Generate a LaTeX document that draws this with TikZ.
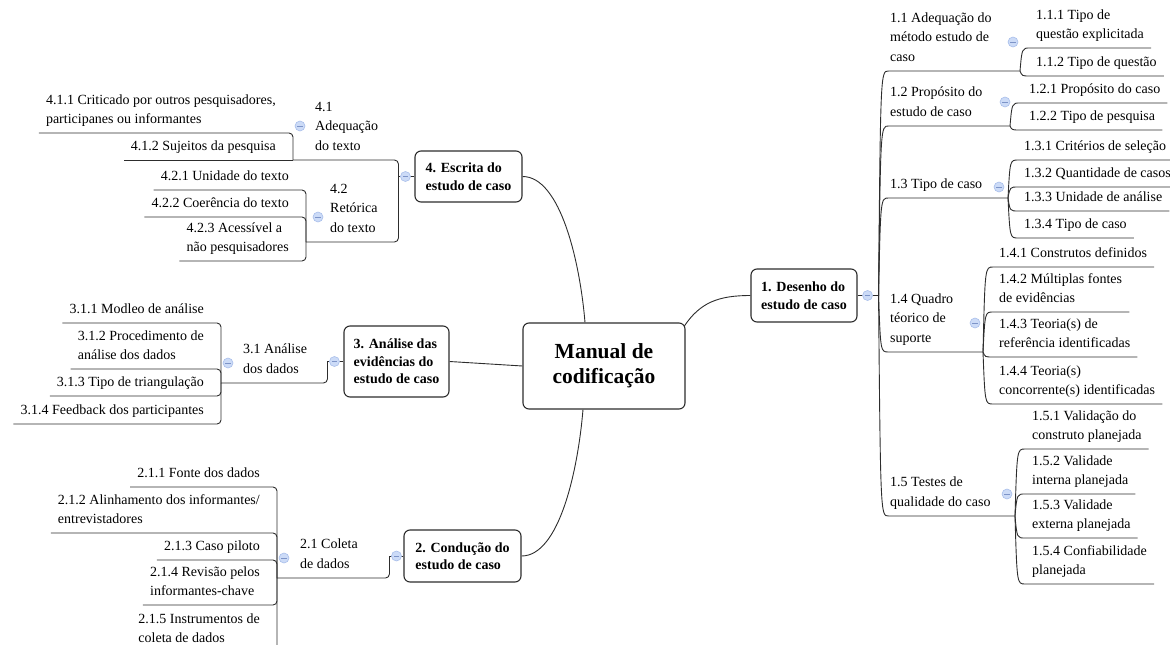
\documentclass[tikz,border=0pt]{standalone}
\usepackage{fontspec}
\setmainfont{Liberation Serif}
\usetikzlibrary{calc}
\definecolor{lnc}{RGB}{45,45,45}
\definecolor{mkfill}{RGB}{204,219,247}
\definecolor{mkdraw}{RGB}{168,190,234}
\definecolor{mkminus}{RGB}{125,148,200}
\pgfdeclarelayer{bg}
\pgfsetlayers{bg,main}
\begin{document}
\begin{tikzpicture}[x=1pt,y=-1pt,
  conn/.style={draw=lnc, line width=0.9pt},
  box/.style={draw=lnc, line width=1.1pt, rounded corners=6pt, fill=white, align=left, inner sep=0pt, font=\fontsize{14}{17.5}\selectfont\bfseries},
  topic/.style={inner xsep=7pt, inner ysep=5.5pt, text depth=4pt, align=left, font=\fontsize{14}{18.5}\selectfont},
  topicb/.style={topic, font=\fontsize{14}{19.5}\selectfont},
  mk/.style={circle, draw=mkdraw, fill=mkfill, line width=0.6pt, minimum size=10pt, inner sep=0pt,
    path picture={\draw[mkminus, line width=0.8pt] ([xshift=-2.6pt]path picture bounding box.center) -- ([xshift=2.6pt]path picture bounding box.center);}},
  rb/.style={to path={(\tikztostart) .. controls ($(\tikztostart |- \tikztotarget)+(2,0)$) .. ($(\tikztostart |- \tikztotarget)+(10,0)$) -- (\tikztotarget)}},
]
\useasboundingbox (0,0) rectangle (1170,645);

% ---------- central and main topics
\node[box, minimum width=162pt, minimum height=86pt, align=center, font=\fontsize{21.5}{25}\selectfont\bfseries] (c) at (604,366) {Manual de\\codificação};
\node[box, minimum width=106pt, minimum height=53pt] (d1) at (804,295.5) {1. Desenho do\\estudo de caso};
\node[box, minimum width=107pt, minimum height=51pt] (d4) at (468.5,176.5) {4. Escrita do\\estudo de caso};
\node[box, minimum width=105pt, minimum height=71pt] (d3) at (396.5,361.5) {3. Análise das\\evidências do\\estudo de caso};
\node[box, minimum width=117pt, minimum height=52pt] (d2) at (462.5,556) {2. Condução do\\estudo de caso};

\begin{pgfonlayer}{bg}
\draw[conn] ([xshift=-1.5pt,yshift=-4pt]c.north east) .. controls +(16,-24) and +(-32,0) .. (d1.west);
\draw[conn] (d4.east) .. controls +(38,0) and +(-5,-60) .. ([xshift=-19pt]c.north);
\draw[conn] (d3.east) -- (c.west);
\draw[conn] (d2.east) .. controls +(38,0) and +(-5,60) .. ([xshift=-21pt]c.south);
\end{pgfonlayer}

% ---------- branch 1 (right)
\coordinate (j1) at ([xshift=21pt]d1.east);
\draw[conn] (d1.east) -- (j1);
\node[mk] (m1) at ([xshift=10pt]d1.east) {};

\node[topicb, anchor=south west] (t11) at (883,71) {1.1 Adequação do\\método estudo de\\caso};
\node[topicb, anchor=south west] (t12) at (883,126) {1.2 Propósito do\\estudo de caso};
\node[topicb, anchor=south west] (t13) at (883,198) {1.3 Tipo de caso};
\node[topicb, anchor=south west] (t14) at (883,352) {1.4 Quadro\\téorico de\\suporte};
\node[topicb, anchor=south west] (t15) at (883,516) {1.5 Testes de\\qualidade do caso};
\coordinate (j11) at ([xshift=137pt]t11.south west);
\coordinate (j12) at ([xshift=127pt]t12.south west);
\coordinate (j13) at ([xshift=125pt]t13.south west);
\coordinate (j14) at ([xshift=100pt]t14.south west);
\coordinate (j15) at ([xshift=132pt]t15.south west);
\foreach \k in {11,12,13,14,15} \draw[conn] (j1) to[rb] (j\k);
\node[mk] (m11) at (1013,42) {};
\node[mk] (m12) at (1005,102) {};
\node[mk] (m13) at (999,187) {};
\node[mk] (m14) at (975,323) {};
\node[mk] (m15) at (1007,494) {};

\node[topic, anchor=south west] (t111) at (1029,48) {1.1.1 Tipo de\\questão explicitada};
\node[topic, anchor=south west] (t112) at (1029,76) {1.1.2 Tipo de questão};
\foreach \k in {111,112} \draw[conn] (j11) to[rb] (t\k.south east);

\node[topic, anchor=south west] (t121) at (1022,103) {1.2.1 Propósito do caso};
\node[topic, anchor=south west] (t122) at (1022,130) {1.2.2 Tipo de pesquisa};
\foreach \k in {121,122} \draw[conn] (j12) to[rb] (t\k.south east);

\node[topic, anchor=south west] (t131) at (1017,160) {1.3.1 Critérios de seleção};
\node[topic, anchor=south west] (t132) at (1017,187) {1.3.2 Quantidade de casos};
\node[topic, anchor=south west] (t133) at (1017,211) {1.3.3 Unidade de análise};
\node[topic, anchor=south west] (t134) at (1017,238) {1.3.4 Tipo de caso};
\foreach \k in {131,132,133,134} \draw[conn] (j13) to[rb] (t\k.south east);

\node[topic, anchor=south west] (t141) at (992,267) {1.4.1 Construtos definidos};
\node[topic, anchor=south west] (t142) at (992,312) {1.4.2 Múltiplas fontes\\de evidências};
\node[topic, anchor=south west] (t143) at (992,357) {1.4.3 Teoria(s) de\\referência identificadas};
\node[topic, anchor=south west] (t144) at (992,404) {1.4.4 Teoria(s)\\concorrente(s) identificadas};
\foreach \k in {141,142,143,144} \draw[conn] (j14) to[rb] (t\k.south east);

\node[topic, anchor=south west] (t151) at (1025,449) {1.5.1 Validação do\\construto planejada};
\node[topic, anchor=south west] (t152) at (1025,494) {1.5.2 Validade\\interna planejada};
\node[topic, anchor=south west] (t153) at (1025,538) {1.5.3 Validade\\externa planejada};
\node[topic, anchor=south west] (t154) at (1025,584) {1.5.4 Confiabilidade\\planejada};
\foreach \k in {151,152,153,154} \draw[conn] (j15) to[rb] (t\k.south east);

% ---------- branch 4 (left)
\coordinate (j4) at ([xshift=-16pt]d4.west);
\draw[conn] (d4.west) -- (j4);
\node[mk] (m4) at ([xshift=-9pt]d4.west) {};
\node[topicb, anchor=south west] (t41) at (308,160) {4.1\\Adequação\\do texto};
\node[topicb, anchor=south west] (t42) at (323,242) {4.2\\Retórica\\do texto};
\coordinate (j41) at ([xshift=-15pt]t41.south west);
\coordinate (j42) at ([xshift=-17pt]t42.south west);
\draw[conn, rounded corners=4pt] (j4) |- (j41);
\draw[conn, rounded corners=4pt] (j4) |- (j42);
\node[mk] (m41) at (300,126) {};
\node[mk] (m42) at (318,217) {};

\node[topic, anchor=south east] (t411) at (283,133) {4.1.1 Criticado por outros pesquisadores,\\participanes ou informantes};
\node[topic, anchor=south east] (t412) at (283,160) {4.1.2 Sujeitos da pesquisa};
\draw[conn, rounded corners=4pt] (j41) |- (t411.south west);
\draw[conn] (j41) -- (t412.south west);

\node[topic, anchor=south east] (t421) at (296,190) {4.2.1 Unidade do texto};
\node[topic, anchor=south east] (t422) at (296,217) {4.2.2 Coerência do texto};
\node[topic, anchor=south east] (t423) at (296,261) {4.2.3 Acessível a\\não pesquisadores};
\foreach \k in {421,422,423} \draw[conn, rounded corners=4pt] (j42) |- (t\k.south west);

% ---------- branch 3 (left)
\coordinate (j3) at ([xshift=-16pt]d3.west);
\draw[conn] (d3.west) -- (j3);
\node[mk] (m3) at ([xshift=-9pt]d3.west) {};
\node[topicb, anchor=south west] (t31) at (236,383) {3.1 Análise\\dos dados};
\coordinate (j31) at ([xshift=-15pt]t31.south west);
\draw[conn, rounded corners=4pt] (j3) |- (j31);
\node[mk] (m31) at (228,363) {};

\node[topic, anchor=south east] (t311) at (211,323) {3.1.1 Modleo de análise};
\node[topic, anchor=south east] (t312) at (211,369) {3.1.2 Procedimento de\\análise dos dados};
\node[topic, anchor=south east] (t313) at (211,396) {3.1.3 Tipo de triangulação};
\node[topic, anchor=south east] (t314) at (211,424) {3.1.4 Feedback dos participantes};
\foreach \k in {311,312,313,314} \draw[conn, rounded corners=4pt] (j31) |- (t\k.south west);

% ---------- branch 2 (left)
\coordinate (j2) at ([xshift=-14pt]d2.west);
\draw[conn] (d2.west) -- (j2);
\node[mk] (m2) at ([xshift=-7pt]d2.west) {};
\node[topicb, anchor=south west] (t21) at (293,578) {2.1 Coleta\\de dados};
\coordinate (j21) at ([xshift=-16pt]t21.south west);
\draw[conn, rounded corners=4pt] (j2) |- (j21);
\node[mk] (m21) at (284,558) {};

\node[topic, anchor=south east] (t211) at (267,487) {2.1.1 Fonte dos dados};
\node[topic, anchor=south east] (t212) at (267,533) {2.1.2 Alinhamento dos informantes/\\entrevistadores};
\node[topic, anchor=south east] (t213) at (267,560) {2.1.3 Caso piloto};
\node[topic, anchor=south east] (t214) at (267,605) {2.1.4 Revisão pelos\\informantes-chave};
\node[topic, anchor=south east] (t215) at (267,652) {2.1.5 Instrumentos de\\coleta de dados};
\foreach \k in {211,212,213,214,215} \draw[conn, rounded corners=4pt] (j21) |- (t\k.south west);
\end{tikzpicture}
\end{document}
